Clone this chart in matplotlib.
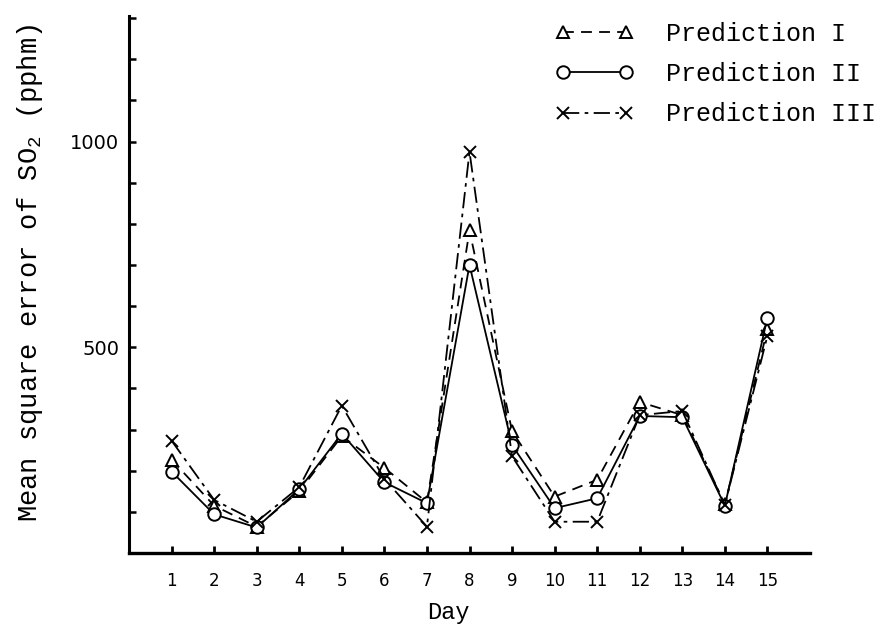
import matplotlib
matplotlib.use("Agg")
import matplotlib.pyplot as plt

days = list(range(1, 16))
pred_1 = [227, 115, 64, 150, 284, 207, 123, 784, 296, 137, 178, 367, 335, 118, 544]
pred_2 = [198, 94, 62, 155, 290, 172, 121, 700, 262, 109, 133, 333, 330, 115, 572]
pred_3 = [273, 129, 76, 160, 358, 180, 64, 975, 235, 76, 76, 335, 345, 117, 528]
y_ticks = list(range(0, 1301, 100))
y_tick_labels = ["500" if v == 500 else ("1000" if v == 1000 else "") for v in y_ticks]
labels = ["Prediction I", "Prediction II", "Prediction III"]

mono = "Liberation Mono"
plt.rcParams["mathtext.fontset"] = "custom"
plt.rcParams["mathtext.rm"] = mono

fig = plt.figure(figsize=(8.91, 6.25), dpi=100)
ax = fig.add_axes([129/891, 1-553/625, (810-129)/891, (553-16)/625])

lw = 1.3
ms = 9
l1, = ax.plot(days, pred_1, color="black", lw=lw, ls=(0, (6, 4)), marker="^",
              ms=ms, mfc="white", mec="black", mew=1.4)
l2, = ax.plot(days, pred_2, color="black", lw=lw, ls="-", marker="o",
              ms=ms, mfc="white", mec="black", mew=1.4)
l3, = ax.plot(days, pred_3, color="black", lw=lw, ls=(0, (9, 3, 2, 3)), marker="x",
              ms=8, mec="black", mew=1.4)

ax.set_xlim(0, 16)
ax.set_ylim(0, 1305)
ax.set_xticks(days)
ax.set_xticklabels([str(d) for d in days], fontsize=12, family="DejaVu Sans")
ax.set_yticks(y_ticks)
ax.set_yticklabels(y_tick_labels, fontsize=14, family="DejaVu Sans")
ax.tick_params(axis="x", direction="in", length=5, width=2, pad=14)
ax.tick_params(axis="y", direction="in", length=5, width=1.8, pad=7)

for s in ["top", "right"]:
    ax.spines[s].set_visible(False)
ax.spines["left"].set_linewidth(2.2)
ax.spines["bottom"].set_linewidth(2.4)

ax.set_ylabel("Mean square error of SO$_2$ (pphm)", fontsize=19.5, family=mono)
ax.yaxis.set_label_coords((45-129)/681, 0.521)
ax.set_xlabel("Day", fontsize=17, family=mono)
ax.xaxis.set_label_coords((448-129)/681, (553-613)/537)
ax.xaxis.label.set_va("center")

leg = ax.legend([l1, l2, l3], labels, loc="upper left",
                bbox_to_anchor=((533-129)/681, 1.031), frameon=False,
                numpoints=2, handlelength=3.1, handletextpad=1.3,
                labelspacing=0.65, prop={"family": mono, "size": 18})

fig.savefig("out.png", dpi=100)
